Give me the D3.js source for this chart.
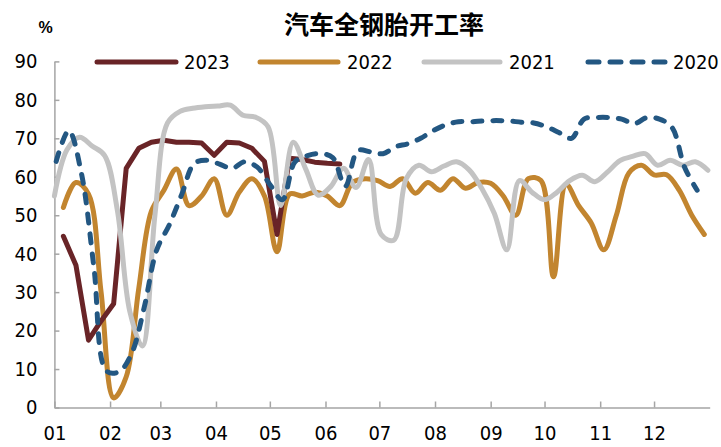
<!DOCTYPE html>
<html>
<head>
<meta charset="utf-8">
<script src="https://cdn.jsdelivr.net/npm/d3@7/dist/d3.min.js"></script>
<style>
  html, body { margin: 0; padding: 0; background: #fff; }
  svg { display: block; }
  .num { font-family: "Liberation Sans Narrow", "Arial Narrow", "DejaVu Sans Condensed", sans-serif; font-size: 20px; fill: #000; }
</style>
</head>
<body>
<svg id="chart" width="721" height="447"></svg>
<script>
// ---- data ----
const title = "汽车全钢胎开工率";
const unitLabel = "%";
const seriesNames = ["2023", "2022", "2021", "2020"];
const monthLabels = ["01","02","03","04","05","06","07","08","09","10","11","12"];
const yTicks = [0, 10, 20, 30, 40, 50, 60, 70, 80, 90];
// first weekly observation (month index, day) of each series, mapped on a common calendar year
const start2023 = [0, 6];
const start2022 = [0, 6];
const start2021 = [0, 1];
const start2020 = [0, 2];

const values2023 = [44.5, 37, 17.5, 22.5, 27, 62.2, 67.4, 69, 69.5, 69, 69, 68.8, 65.6, 69, 68.8, 67.4, 64, 45, 64.8, 64.5, 63.8, 63.5, 63.3];
const values2022 = [52, 58.5, 55.5, 30, 2.5, 8, 31, 51, 56.5, 62, 52.5, 55, 59.5, 50, 56, 59.5, 55, 40.5, 55.5, 55, 56, 55, 52.5, 58.5, 59.5, 59, 57.5, 59.5, 55.7, 58.5, 56.5, 59.5, 57, 58.5, 58.3, 55, 50, 59.5, 59, 34, 58, 52.5, 48, 41, 50, 61, 63, 60.5, 60.5, 56.5, 50, 45];
const values2021 = [55, 67, 70.3, 68, 65.5, 51.5, 25, 16, 50, 74, 77, 77.8, 78.2, 78.4, 78.6, 76, 75.5, 73, 52.5, 69, 62, 55.2, 57.5, 62.2, 57.2, 64.5, 45, 43.5, 59.5, 63, 61.3, 62.8, 63.9, 61.8, 57, 50.5, 41, 59, 56, 54, 56, 59, 60.4, 58.7, 61.2, 64.2, 65.3, 66, 63, 64.3, 63, 63.9, 61.7];
const values2020 = [64, 72, 61, 36.5, 9.5, 9.3, 14, 26, 41, 47.5, 55.5, 63.5, 64.3, 63.3, 62.2, 63.9, 62.5, 58, 54, 63.9, 65.5, 66, 65, 57.5, 66.8, 66.5, 66, 67.8, 68.6, 70, 72, 73.5, 74.3, 74.3, 74.5, 74.6, 74.5, 74.2, 74, 73, 71.5, 70, 75, 75.4, 75.4, 75, 73.8, 75.4, 75, 72.8, 62.5, 56.5];

// ---- layout ----
const refYear = 2023;
const svg = d3.select("#chart");
const plotLeft = 54.4, plotRight = 709.7, plotTop = 61.4, plotBottom = 407.5;

const x = d3.scaleTime()
  .domain([new Date(refYear, 0, 1), new Date(refYear + 1, 0, 1)])
  .range([plotLeft, plotRight]);
const y = d3.scaleLinear().domain([0, 90]).range([plotBottom, plotTop]);

function weekly(startMD, vals) {
  return vals.map((v, i) => ({ date: d3.timeDay.offset(new Date(refYear, startMD[0], startMD[1]), 7 * i), value: v }));
}

const series = [
  { name: seriesNames[1], data: weekly(start2022, values2022), color: "#C2852F", dash: null, curve: d3.curveCatmullRom },
  { name: seriesNames[0], data: weekly(start2023, values2023), color: "#692427", dash: null, curve: d3.curveLinear },
  { name: seriesNames[2], data: weekly(start2021, values2021), color: "#C3C3C3", dash: null, curve: d3.curveCatmullRom },
  { name: seriesNames[3], data: weekly(start2020, values2020), color: "#235782", dash: "9,11", curve: d3.curveCatmullRom }
];

// ---- axes ----
const axisColor = "#A5A5A5";
const yAxis = d3.axisLeft(y).tickValues(yTicks).tickSize(-5).tickSizeOuter(0).tickPadding(17);
const gy = svg.append("g").attr("transform", `translate(${plotLeft},0)`).call(yAxis);
gy.selectAll("path, line").attr("stroke", axisColor).attr("stroke-width", 1.5);
gy.selectAll("text").attr("class", "num");
gy.attr("font-family", null).attr("font-size", null);

const monthDates = monthLabels.map((m, i) => new Date(refYear, i, 1));
const xAxis = d3.axisBottom(x).tickValues(monthDates).tickFormat((d, i) => monthLabels[i])
  .tickSize(-6).tickSizeOuter(0).tickPadding(18);
const gx = svg.append("g").attr("transform", `translate(0,${plotBottom})`).call(xAxis);
gx.selectAll("path, line").attr("stroke", axisColor).attr("stroke-width", 1.5);
gx.selectAll("text").attr("class", "num");
gx.attr("font-family", null).attr("font-size", null);

// ---- lines ----
series.forEach(s => {
  const line = d3.line().x(d => x(d.date)).y(d => y(d.value)).curve(s.curve);
  svg.append("path")
    .datum(s.data)
    .attr("d", line)
    .attr("fill", "none")
    .attr("stroke", s.color)
    .attr("stroke-width", 5)
    .attr("stroke-linejoin", "round")
    .attr("stroke-linecap", "round")
    .attr("stroke-dasharray", s.dash);
});

// ---- title & unit ----
svg.append("text").attr("x", 384).attr("y", 23)
  .attr("text-anchor", "middle").attr("dominant-baseline", "central")
  .attr("font-family", "'Noto Sans CJK SC', sans-serif").attr("font-weight", 700)
  .attr("font-size", 25).text(title);
svg.append("text").attr("x", 45.5).attr("y", 27.5)
  .attr("text-anchor", "middle").attr("dominant-baseline", "central")
  .attr("font-family", "'Liberation Sans', Arial, sans-serif").attr("font-weight", 700)
  .attr("font-size", 16).text(unitLabel);

// ---- legend ----
const legendItems = [
  { name: seriesNames[0], color: "#692427", dash: null, x1: 97, x2: 176, tx: 184 },
  { name: seriesNames[1], color: "#C2852F", dash: null, x1: 260, x2: 338, tx: 347 },
  { name: seriesNames[2], color: "#C3C3C3", dash: null, x1: 424, x2: 500, tx: 509 },
  { name: seriesNames[3], color: "#235782", dash: "11,11", x1: 588, x2: 665, tx: 673 }
];
const lg = svg.append("g");
legendItems.forEach(it => {
  lg.append("line").attr("x1", it.x1).attr("x2", it.x2).attr("y1", 62).attr("y2", 62)
    .attr("stroke", it.color).attr("stroke-width", 5).attr("stroke-linecap", "round")
    .attr("stroke-dasharray", it.dash);
  lg.append("text").attr("class", "num").attr("x", it.tx).attr("y", 62)
    .attr("dominant-baseline", "central").text(it.name);
});
</script>
</body>
</html>
